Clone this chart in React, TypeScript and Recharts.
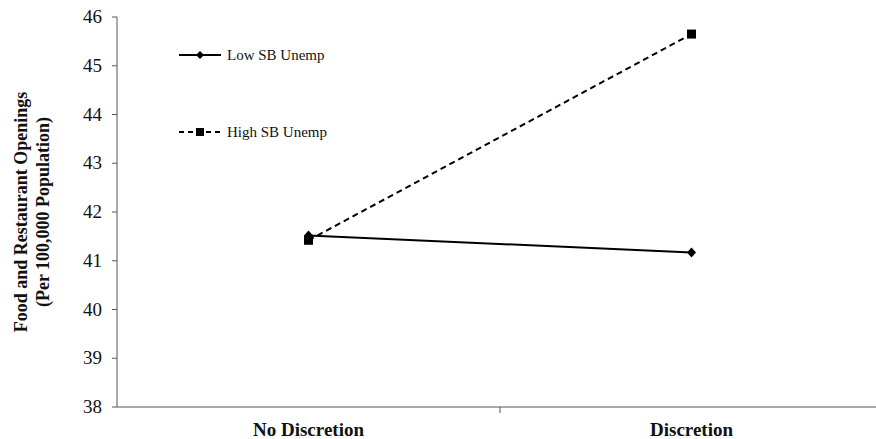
import { LineChart, Line, XAxis, YAxis, Legend } from 'recharts';

const categories = ['No Discretion', 'Discretion'];
const categoryPos = [0.5, 1.5];
const lowSB = [41.52, 41.17];
const highSB = [41.42, 45.65];
const yTicks = [38, 39, 40, 41, 42, 43, 44, 45, 46];

const data = categories.map((name, i) => ({
    name,
    x: categoryPos[i],
    low: lowSB[i],
    high: highSB[i],
}));

const FONT = '"Liberation Serif", "Times New Roman", serif';

function Diamond(props: any) {
    const { cx, cy } = props;
    if (cx == null || cy == null) return null;
    return <path d={`M${cx},${cy - 5} L${cx + 4.5},${cy} L${cx},${cy + 5} L${cx - 4.5},${cy} Z`} fill="#000" />;
}

function Square(props: any) {
    const { cx, cy } = props;
    if (cx == null || cy == null) return null;
    return <rect x={cx - 4.5} y={cy - 4.5} width={9} height={9} fill="#000" />;
}

function XTick(props: any) {
    const { x, y, payload } = props;
    if (payload.value === 1) {
        return <line x1={x} y1={y - 8} x2={x} y2={y - 2} stroke="#555" strokeWidth={1} />;
    }
    const idx = categoryPos.indexOf(payload.value);
    return (
        <text x={x} y={y + 21} textAnchor="middle" fontFamily={FONT} fontWeight="bold" fontSize={19} fill="#111">
            {categories[idx]}
        </text>
    );
}

function YTick(props: any) {
    const { x, y, payload } = props;
    return (
        <text x={x - 8} y={y + 6} textAnchor="end" fontFamily={FONT} fontSize={19} fill="#111">
            {payload.value}
        </text>
    );
}

function YTitle() {
    return (
        <g transform="translate(32,212) rotate(-90)">
            <text x={0} y={-5} textAnchor="middle" fontFamily={FONT} fontWeight="bold" fontSize={18} fill="#111">
                Food and Restaurant Openings
            </text>
            <text x={0} y={17} textAnchor="middle" fontFamily={FONT} fontWeight="bold" fontSize={18} fill="#111">
                (Per 100,000 Population)
            </text>
        </g>
    );
}

function LegendBox() {
    return (
        <div style={{ fontFamily: FONT, fontSize: 15, color: '#111' }}>
            <div style={{ display: 'flex', alignItems: 'center', height: 20 }}>
                <svg width={46} height={12}>
                    <line x1={0} y1={6} x2={42} y2={6} stroke="#000" strokeWidth={2} />
                    <path d="M21,2 L25,6 L21,10 L17,6 Z" fill="#000" />
                </svg>
                <span style={{ marginLeft: 2 }}>Low SB Unemp</span>
            </div>
            <div style={{ display: 'flex', alignItems: 'center', height: 20, marginTop: 57 }}>
                <svg width={46} height={12}>
                    <line x1={0} y1={6} x2={42} y2={6} stroke="#000" strokeWidth={2} strokeDasharray="5 4" />
                    <rect x={17} y={2} width={8} height={8} fill="#000" />
                </svg>
                <span style={{ marginLeft: 2 }}>High SB Unemp</span>
            </div>
        </div>
    );
}

export default function App() {
    return (
        <div style={{ position: 'fixed', left: 0, top: 0, width: 876, height: 439, overflow: 'hidden', background: '#fff' }}>
            <LineChart
                width={884}
                height={439}
                data={data}
                margin={{ top: 17, right: 1, bottom: 0, left: 0 }}
                style={{ overflow: 'visible' }}
            >
                <XAxis
                    dataKey="x"
                    type="number"
                    domain={[0, 2]}
                    ticks={[0.5, 1, 1.5]}
                    tickLine={false}
                    tick={<XTick />}
                    height={32}
                    stroke="#555"
                    interval={0}
                />
                <YAxis
                    domain={[38, 46]}
                    ticks={yTicks}
                    width={117}
                    stroke="#555"
                    tickSize={5}
                    tick={<YTick />}
                    label={<YTitle />}
                    interval={0}
                />
                <Legend
                    layout="vertical"
                    verticalAlign="middle"
                    align="center"
                    wrapperStyle={{ left: 179, top: 45, width: 200 }}
                    content={<LegendBox />}
                />
                <Line
                    dataKey="low"
                    stroke="#000"
                    strokeWidth={2}
                    dot={<Diamond />}
                    isAnimationActive={false}
                />
                <Line
                    dataKey="high"
                    stroke="#000"
                    strokeWidth={2}
                    strokeDasharray="6 4"
                    dot={<Square />}
                    isAnimationActive={false}
                />
            </LineChart>
        </div>
    );
}
